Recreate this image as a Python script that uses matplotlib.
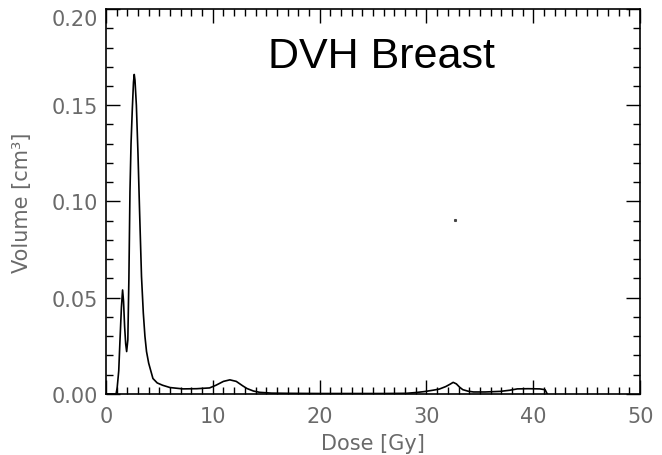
import numpy as np
import matplotlib.pyplot as plt
from matplotlib.ticker import MultipleLocator

# DVH curve
dose = [0, 0.95, 1.05, 1.2, 1.31, 1.45, 1.56, 1.65, 1.75, 1.85, 1.94, 2.05,
        2.15, 2.25, 2.35, 2.47, 2.58, 2.65, 2.72, 2.85, 3.0, 3.15, 3.33, 3.5,
        3.65, 3.8, 4.0, 4.2, 4.4, 4.8, 5.3, 6.0, 7.2, 8.5, 9.7, 10.3, 11.0,
        11.6, 12.2, 12.8, 13.2, 13.8, 14.4, 15.5, 17, 20, 23, 26, 28.1, 29,
        29.8, 30.6, 31.2, 31.8, 32.2, 32.5, 32.8, 33.1, 33.4, 33.9, 34.4, 35.5,
        36.9, 37.8, 38.5, 39.5, 40.6, 41.1, 41.3]
volume = [0, 0, 0.003, 0.012, 0.027, 0.045, 0.054, 0.048, 0.035, 0.026, 0.022,
          0.028, 0.06, 0.105, 0.13, 0.148, 0.162, 0.166, 0.163, 0.15, 0.125,
          0.095, 0.061, 0.042, 0.03, 0.022, 0.016, 0.012, 0.008, 0.0057,
          0.0045, 0.0033, 0.0026, 0.0027, 0.0031, 0.0045, 0.0065, 0.0073,
          0.0065, 0.0042, 0.0028, 0.0015, 0.0008, 0.0004, 0.0003, 0.0002,
          0.0002, 0.0002, 0.0003, 0.0007, 0.0012, 0.0019, 0.0025, 0.0038,
          0.005, 0.006, 0.0052, 0.0035, 0.0022, 0.0014, 0.001, 0.001, 0.0013,
          0.0019, 0.0026, 0.0027, 0.0026, 0.0022, 0]

# lone stray point visible in the plot area
stray_dose = [32.7]
stray_volume = [0.0906]

xticks = [0, 10, 20, 30, 40, 50]
yticks = [0.00, 0.05, 0.10, 0.15, 0.20]

grey = '#6a6a6a'
lab_font = 'DejaVu Sans'

fig = plt.figure(figsize=(6.62, 4.56), dpi=100)
ax = fig.add_axes([0.160, 0.134, 0.807, 0.844])

ax.plot(dose, volume, color='black', linewidth=1.2)
ax.plot(stray_dose, stray_volume, linestyle='none', marker='s',
        markersize=1.2, color='#444444')

ax.set_xlim(0, 50)
ax.set_ylim(0, 0.20)
ax.set_xticks(xticks)
ax.set_yticks(yticks)
ax.set_xticklabels([str(t) for t in xticks])
ax.set_yticklabels(['%.2f' % t for t in yticks])
ax.xaxis.set_minor_locator(MultipleLocator(1))
ax.yaxis.set_minor_locator(MultipleLocator(0.01))

ax.tick_params(which='both', direction='in', top=True, right=True,
               colors='black', labelcolor=grey, width=1)
ax.tick_params(which='major', length=10, labelsize=15)
ax.tick_params(which='minor', length=5)
ax.tick_params(axis='x', pad=9)
ax.tick_params(axis='y', pad=6)
for lab in ax.get_xticklabels() + ax.get_yticklabels():
    lab.set_family(lab_font)
# top label sits a little below the frame corner, as in the original
ax.get_yticklabels()[-1].set_va('top')
for s in ax.spines.values():
    s.set_linewidth(1.2)

ax.set_xlabel('Dose [Gy]', fontsize=15, color=grey, family=lab_font, labelpad=5)
ax.set_ylabel('Volume [cm³]', fontsize=15, color=grey, family=lab_font, labelpad=14)

fig.text(0.577, 0.875, 'DVH Breast', fontsize=31, family='Liberation Sans',
         ha='center', va='center', color='black')

fig.savefig('out.png', dpi=100)
